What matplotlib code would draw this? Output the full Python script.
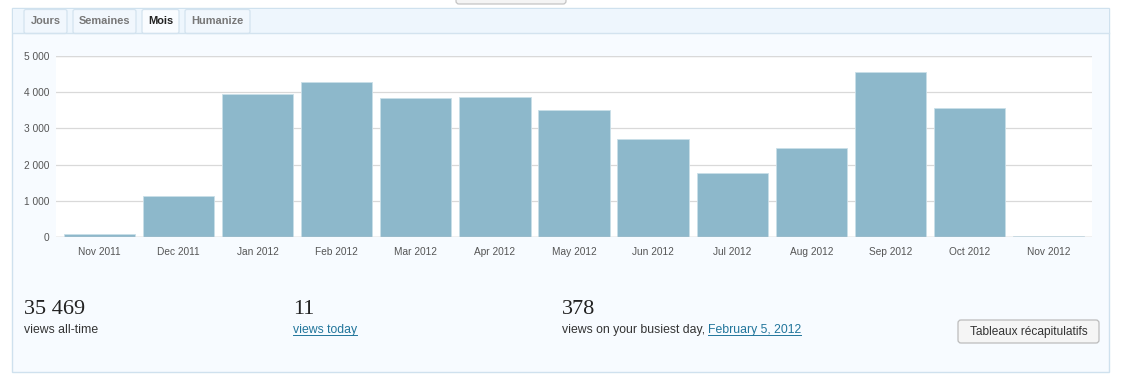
import matplotlib
matplotlib.use("Agg")
import matplotlib.pyplot as plt
from matplotlib.patches import Rectangle, FancyBboxPatch
from matplotlib.ticker import FuncFormatter

# --- DATA ---
months = ["Nov 2011", "Dec 2011", "Jan 2012", "Feb 2012", "Mar 2012", "Apr 2012",
          "May 2012", "Jun 2012", "Jul 2012", "Aug 2012", "Sep 2012", "Oct 2012", "Nov 2012"]
views = [75, 1130, 3960, 4270, 3850, 3865, 3505, 2700, 1765, 2470, 4550, 3570, 20]
y_ticks = [0, 1000, 2000, 3000, 4000, 5000]
tabs = ["Jours", "Semaines", "Mois", "Humanize"]
active_tab = "Mois"
total_views = "35 469"
views_today = "11"
best_day_views = "378"
best_day = "February 5, 2012"

# --- LAYOUT (pixels) ---
W, H = 1122, 380
BAR_COLOR = "#8db8cb"
LINK = "#21759b"
SANS = "Liberation Sans"

fig = plt.figure(figsize=(W / 100, H / 100), dpi=100)
fig.patch.set_facecolor("white")

# background axes in pixel units (y grows downward)
bg = fig.add_axes([0, 0, 1, 1])
bg.set_xlim(0, W)
bg.set_ylim(H, 0)
bg.axis("off")

# little button cut off at the top
bg.add_patch(FancyBboxPatch((456, -10), 110, 14, boxstyle="round,pad=0,rounding_size=3",
                            fc="#f4f4f4", ec="#c4c4c4", lw=0.9))

# panel
bg.add_patch(Rectangle((12.5, 8), 1097, 364, fc="#f7fbff", ec="#cfe1ee", lw=1.0))
bg.add_patch(Rectangle((13, 8.5), 1096, 24, fc="#eef6fd", ec="none"))
bg.plot([13, 1109], [32.5, 32.5], color="#d3e3ef", lw=1.0)

# tabs
tab_x = [(24, 67), (73, 136), (142, 179), (185, 250)]
for name, (x0, x1) in zip(tabs, tab_x):
    on = name == active_tab
    bg.add_patch(FancyBboxPatch((x0, 9.5), x1 - x0, 24, boxstyle="round,pad=0,rounding_size=2",
                                fc="#f9fcff" if on else "#f1f7fd", ec="#d3e3ef", lw=0.9))
    bg.text((x0 + x1) / 2, 21.5, name, ha="center", va="center", fontsize=7.9,
            family=SANS, fontweight="bold", color="#222222" if on else "#777777")

# --- CHART ---
ax = fig.add_axes([56 / W, 1 - 237 / H, (1092 - 56) / W, (237 - 56) / H])
ax.set_facecolor("white")
x = list(range(len(months)))
ax.bar(x, views, width=0.9, color=BAR_COLOR, edgecolor="#c9dfe8", linewidth=0.6, zorder=3)
ax.set_xlim(-0.55, 12.55)
ax.set_ylim(0, 5000)
ax.set_yticks(y_ticks)
ax.yaxis.set_major_formatter(FuncFormatter(lambda v, p: f"{int(v):,}".replace(",", " ")))
ax.set_xticks(x)
ax.set_xticklabels(months)
ax.grid(axis="y", color="#d9d9d9", lw=0.9, zorder=0)
ax.tick_params(length=0, labelsize=7.3, labelcolor="#555555")
ax.tick_params(axis="y", pad=5)
ax.tick_params(axis="x", pad=7)
for lbl in ax.get_xticklabels() + ax.get_yticklabels():
    lbl.set_family(SANS)
for s in ax.spines.values():
    s.set_visible(False)
ax.axhline(0, color="#cccccc", lw=1.0, zorder=4)
ax.axhline(5000, color="#d9d9d9", lw=0.9, zorder=4)

# --- STATS ---
big = dict(fontsize=16, family="Liberation Serif", color="#222222", va="baseline")
small = dict(fontsize=8.8, family=SANS, color="#333333", va="baseline")
bg.text(24, 314, total_views, **big)
bg.text(24, 333, "views all-time", **small)
bg.text(293, 314, views_today, **big)
t_today = bg.text(293, 333, "views today", **{**small, "color": LINK})
bg.text(562, 314, best_day_views, **big)
t_busy = bg.text(562, 333, "views on your busiest day,", **small)

fig.canvas.draw()
r = fig.canvas.get_renderer()
bb = t_busy.get_window_extent(r)
t_date = bg.text(bb.x1 + 3, 333, best_day, **{**small, "color": LINK})
fig.canvas.draw()
for t in (t_today, t_date):
    e = t.get_window_extent(r)
    bg.plot([e.x0, e.x1], [335.3, 335.3], color=LINK, lw=0.7)

# button
bg.add_patch(FancyBboxPatch((958, 320), 141, 23, boxstyle="round,pad=0,rounding_size=3",
                            fc="#f5f5f5", ec="#bcbcbc", lw=0.9))
bg.text(1028.5, 332, "Tableaux récapitulatifs", ha="center", va="center",
        fontsize=8.6, family=SANS, color="#333333")

fig.savefig("out.png", dpi=100)
